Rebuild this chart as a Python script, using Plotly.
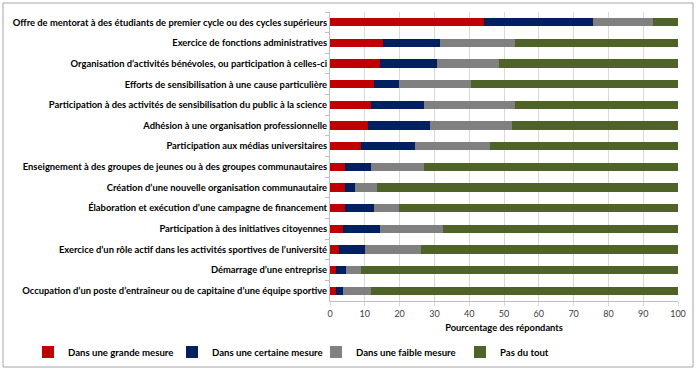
import plotly.graph_objects as go

categories = [
    "Offre de mentorat à des étudiants de premier cycle ou des cycles supérieurs",
    "Exercice de fonctions administratives",
    "Organisation d’activités bénévoles, ou participation à celles-ci",
    "Efforts de sensibilisation à une cause particulière",
    "Participation à des activités de sensibilisation du public à la science",
    "Adhésion à une organisation professionnelle",
    "Participation aux médias universitaires",
    "Enseignement à des groupes de jeunes ou à des groupes communautaires",
    "Création d’une nouvelle organisation communautaire",
    "Élaboration et exécution d’une campagne de financement",
    "Participation à des initiatives citoyennes",
    "Exercice d’un rôle actif dans les activités sportives de l’université",
    "Démarrage d’une entreprise",
    "Occupation d’un poste d’entraîneur ou de capitaine d’une équipe sportive",
]

grande = [44.3, 15.2, 14.3, 12.5, 11.8, 10.8, 8.9, 4.4, 4.4, 4.4, 3.6, 2.7, 1.7, 1.7]
certaine = [31.4, 16.3, 16.4, 7.3, 15.2, 18.0, 15.5, 7.3, 2.8, 8.2, 10.8, 7.3, 2.8, 1.9]
faible = [17.1, 21.7, 18.0, 20.7, 26.2, 23.5, 21.6, 15.3, 6.3, 7.2, 18.1, 16.1, 4.5, 8.1]
pas_du_tout = [7.2, 46.8, 51.3, 59.5, 46.8, 47.7, 54.0, 73.0, 86.5, 80.2, 67.5, 73.9, 91.0, 88.3]

series_names = ["Dans une grande mesure", "Dans une certaine mesure",
                "Dans une faible mesure", "Pas du tout"]
series_values = [grande, certaine, faible, pas_du_tout]
colors = ["#C00000", "#002060", "#808080", "#4F6228"]

x_ticks = list(range(0, 101, 10))

font_family = "Lato, 'Open Sans', sans-serif"

fig = go.Figure()
for name, vals, col in zip(series_names, series_values, colors):
    fig.add_trace(go.Bar(
        y=categories, x=vals, name=name, orientation="h",
        marker=dict(color=col, line=dict(width=0)),
    ))

W, H = 696, 370
ml, mr, mt, mb = 330, 18, 12, 69
pw, ph = W - ml - mr, H - mt - mb

def px_x(p):
    return (p - ml) / pw

def px_y(p):
    return (H - mb - p) / ph

fig.update_layout(
    width=W, height=H,
    margin=dict(l=ml, r=mr, t=mt, b=mb, autoexpand=False),
    barmode="stack", bargap=0.6,
    paper_bgcolor="white", plot_bgcolor="white",
    font=dict(family=font_family, color="#000000"),
    showlegend=True,
    legend=dict(
        orientation="h",
        x=px_x(28), xanchor="left",
        y=px_y(352), yanchor="middle",
        font=dict(size=9.6, family=font_family, weight="bold"),
        traceorder="normal", itemwidth=30, bgcolor="rgba(0,0,0,0)",
        entrywidth=99, entrywidthmode="pixels",
    ),
    xaxis=dict(
        range=[0, 100], tickvals=x_ticks, ticktext=[str(v) for v in x_ticks],
        showgrid=True, gridcolor="#D9D9D9", gridwidth=1,
        zeroline=False, showline=True, linecolor="#BFBFBF",
        tickfont=dict(size=9, color="#404040"),
        ticks="outside", ticklen=4, tickcolor="#D9D9D9",
        title=dict(text="Pourcentage des répondants",
                   font=dict(size=9.3, weight="bold"), standoff=6),
    ),
    yaxis=dict(
        autorange="reversed", showline=True, linecolor="#BFBFBF",
        ticks="outside", ticklen=4, tickcolor="#BFBFBF",
        tickson="boundaries",
        tickfont=dict(size=9.4, weight="bold"),
        showgrid=False,
    ),
    shapes=[dict(
        type="rect", xref="paper", yref="paper",
        x0=px_x(3), x1=px_x(693), y0=px_y(367), y1=px_y(3),
        line=dict(color="#A6A6A6", width=1), fillcolor="rgba(0,0,0,0)",
        layer="below",
    )],
)

fig.write_html(
    "out.html",
    config={"displayModeBar": False},
    post_script="document.body.style.margin='0';document.body.style.overflow='hidden';",
)
